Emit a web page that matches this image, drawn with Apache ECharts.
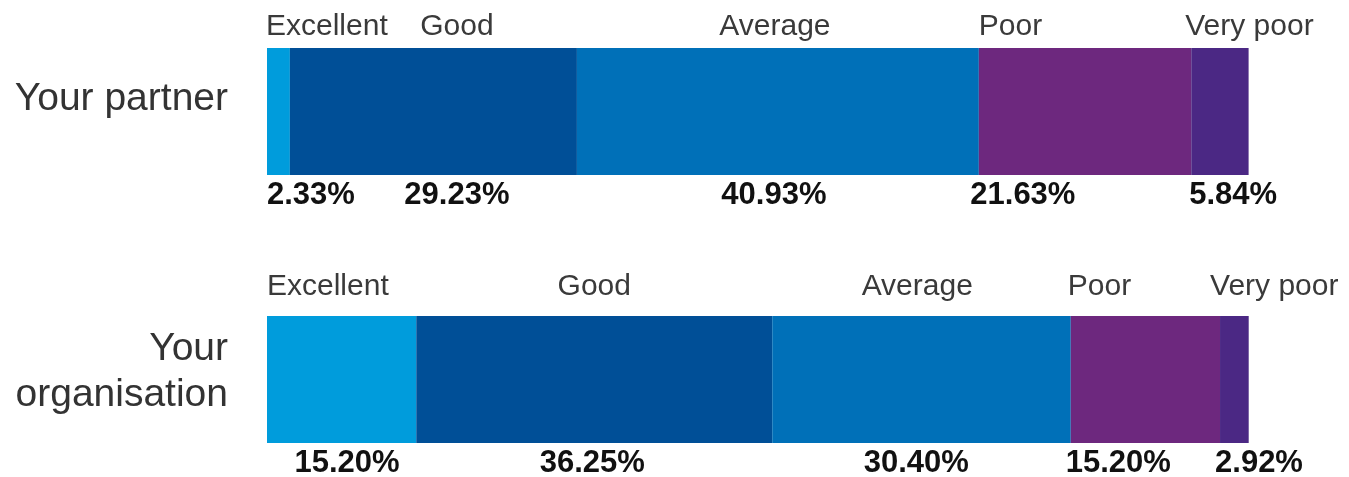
<!DOCTYPE html>
<html>
<head>
<meta charset="utf-8">
<script src="https://cdn.jsdelivr.net/npm/echarts@6/dist/echarts.min.js"></script>
<style>
  html, body { margin: 0; padding: 0; background: #ffffff; }
  #chart { width: 1349px; height: 477px; }
</style>
</head>
<body>
<div id="chart"></div>
<script>
// ---- Data ----
const categories = ['Your partner', 'Your\norganisation'];
const ratings = ['Excellent', 'Good', 'Average', 'Poor', 'Very poor'];
const partnerValues = [2.33, 29.23, 40.93, 21.63, 5.84];
const organisationValues = [15.20, 36.25, 30.40, 15.20, 2.92];

// ---- Styles ----
const ratingColors = ['#009cdc', '#004f97', '#0070b8', '#6d287e', '#4b2884'];
const FONT = '"Liberation Sans", Arial, Helvetica, sans-serif';
// label placement relative to each segment: [align, x offset from segment left]
const nameLabelPlacement = [
  [['left', -1], ['center', 167], ['center', 198], ['left', 0], ['left', -6]],
  [['left', 0], ['center', '50%'], ['center', 145], ['left', -3], ['left', -10]]
];
const nameLabelY = [-21, -29];
const pctLabelPlacement = [
  [['left', 0], ['center', 167], ['center', 197], ['center', 44], ['left', -2]],
  [['center', 80], ['center', 176], ['center', 144], ['left', -5], ['left', -5]]
];
const pctLabelY = [147, 147];

const rows = [partnerValues, organisationValues];
const series = [];

ratings.forEach((r, i) => {
  series.push({
    type: 'bar',
    name: r,
    stack: 'values',
    barWidth: 127,
    barGap: '-100%',
    itemStyle: { color: ratingColors[i] },
    emphasis: { disabled: true },
    data: rows.map((vals, row) => ({
      value: vals[i],
      label: {
        show: true,
        position: [pctLabelPlacement[row][i][1], pctLabelY[row]],
        align: pctLabelPlacement[row][i][0],
        verticalAlign: 'middle',
        formatter: (p) => p.value.toFixed(2) + '%',
        fontFamily: FONT,
        fontSize: 31,
        fontWeight: 'bold',
        color: '#111111'
      }
    }))
  });
});

ratings.forEach((r, i) => {
  series.push({
    type: 'bar',
    name: r + ' name',
    stack: 'names',
    barWidth: 127,
    barGap: '-100%',
    silent: true,
    itemStyle: { color: 'rgba(0,0,0,0)' },
    emphasis: { disabled: true },
    data: rows.map((vals, row) => ({
      value: vals[i],
      label: {
        show: true,
        position: [nameLabelPlacement[row][i][1], nameLabelY[row]],
        align: nameLabelPlacement[row][i][0],
        verticalAlign: 'middle',
        formatter: r,
        fontFamily: FONT,
        fontSize: 30,
        color: '#3a3a3a'
      }
    }))
  });
});

const chart = echarts.init(document.getElementById('chart'), null, { renderer: 'canvas' });
chart.setOption({
  animation: false,
  backgroundColor: '#ffffff',
  grid: { left: 267, right: 100, top: 111.5, bottom: 97.5, containLabel: false },
  xAxis: {
    type: 'value', min: 0, max: 100, show: false
  },
  yAxis: {
    type: 'category',
    data: categories,
    inverse: true,
    boundaryGap: false,
    axisLine: { show: false },
    axisTick: { show: false },
    splitLine: { show: false },
    axisLabel: {
      margin: 39,
      formatter: (v) => v === categories[0] ? '{p|' + v + '}' : v.split('\n').map(s => '{o|' + s + '}').join('\n'),
      rich: {
        p: { fontFamily: FONT, fontSize: 39, color: '#333333', lineHeight: 46, padding: [0, 0, 10, 0] },
        o: { fontFamily: FONT, fontSize: 39, color: '#333333', lineHeight: 46, align: 'right' }
      },
      padding: [0, 0, 14, 0]
    }
  },
  series: series
});
</script>
</body>
</html>
